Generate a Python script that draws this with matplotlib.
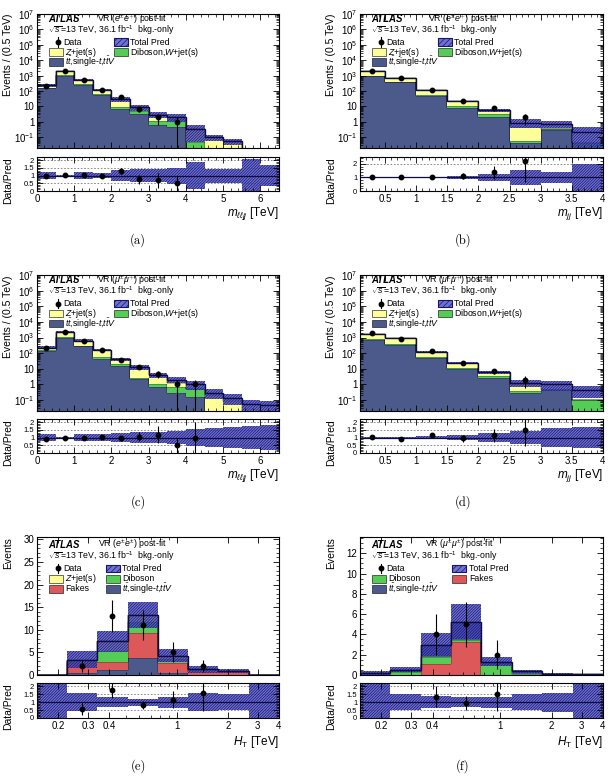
import numpy as np
import matplotlib
matplotlib.use('Agg')
import matplotlib.pyplot as plt
from matplotlib.patches import Rectangle
from matplotlib.lines import Line2D
from matplotlib.ticker import (LogLocator, NullFormatter, FuncFormatter, MultipleLocator,
                               AutoMinorLocator, FixedLocator, FixedFormatter)

plt.rcParams['font.family'] = ['Liberation Sans', 'DejaVu Sans']
plt.rcParams['mathtext.fontset'] = 'custom'
plt.rcParams['mathtext.rm'] = 'Liberation Sans'
plt.rcParams['mathtext.it'] = 'Liberation Sans:italic'
plt.rcParams['mathtext.bf'] = 'Liberation Sans:bold'
plt.rcParams['hatch.linewidth'] = 0.5
plt.rcParams['axes.linewidth'] = 0.8

# ---------------- data ----------------
# (a) VR ee, m_lljj
edges_a = [0.0, 0.5, 1.0, 1.5, 2.0, 2.5, 3.0, 3.5, 4.0, 4.5, 5.0, 5.5, 6.0, 6.5]
tt_a = [155, 1000, 255, 55, 6.5, 3.0, 0.6, 0.45, 0.01, 0.005, 0.003, 0.002, 0.001]
vv_a = [10, 60, 20, 8, 3.0, 1.8, 0.5, 1.0, 0.04, 0.005, 0.003, 0.002, 0.001]
z_a = [65, 840, 255, 57, 22.5, 4.5, 1.8, 0.55, 0.3, 0.09, 0.05, 0.006, 0.005]
tot_a = [230, 1900, 530, 120, 32, 9.3, 2.9, 2.0, 0.35, 0.1, 0.056, 0.01, 0.007]
unc_a = [0.24, 0.05, 0.2, 0.15, 0.35, 0.42, 0.42, 0.52, 0.85, 0.45, 0.45, 1.05, 0.7]
data_a = [220, 1940, 555, 114, 41, 7, 2, 1]

# (b) VR ee, m_jj
edges_b = [0.1, 0.5, 1.0, 1.5, 2.0, 2.5, 3.0, 3.5, 4.0]
tt_b = [900, 360, 45, 8, 2.1, 0.04, 0.3, 0.02]
vv_b = [60, 30, 8, 3, 0.9, 0.02, 0.06, 0.02]
z_b = [900, 300, 57, 10, 2.8, 0.4, 0.0, 0.0]
tot_b = [1860, 690, 110, 21, 5.8, 0.9, 0.75, 0.22]
unc_b = [0.03, 0.03, 0.05, 0.1, 0.24, 0.58, 0.43, 1.02]
data_b = [1860, 725, 110, 23, 8, 2]

# (c) VR mumu, m_lljj
edges_c = [0.0, 0.5, 1.0, 1.5, 2.0, 2.5, 3.0, 3.5, 4.0, 4.5, 5.0, 5.5, 6.0, 6.5]
tt_c = [140, 1000, 270, 45, 15, 2.1, 0.66, 0.27, 0.15, 0.005, 0.003, 0.002, 0.002]
vv_c = [10, 70, 30, 15, 5, 0.6, 0.35, 0.4, 0.35, 0.01, 0.005, 0.002, 0.002]
z_c = [80, 1330, 330, 100, 21, 9.7, 3.2, 0.6, 0.0, 0.2, 0.08, 0.01, 0.01]
tot_c = [230, 2400, 630, 160, 41, 12.4, 4.2, 2.0, 1.0, 0.3, 0.14, 0.06, 0.05]
unc_c = [0.22, 0.05, 0.2, 0.2, 0.28, 0.33, 0.36, 0.42, 0.55, 0.6, 0.65, 0.73, 0.8]
data_c = [214, 2400, 630, 168, 39, 13, 5, 1, 1]

# (d) VR mumu, m_jj
edges_d = [0.1, 0.5, 1.0, 1.5, 2.0, 2.5, 3.0, 3.5, 4.0]
tt_d = [740, 345, 52, 9.8, 2.7, 0.27, 0.45, 0.005]
vv_d = [60, 30, 8, 2, 0.6, 0.09, 0.02, 0.1]
z_d = [940, 575, 65, 12.7, 2.8, 0.65, 0.0, 0.0]
tot_d = [1740, 950, 125, 24.5, 6.1, 1.33, 1.0, 0.45]
unc_d = [0.03, 0.03, 0.07, 0.15, 0.27, 0.45, 0.6, 0.7]
data_d = [1830, 855, 144, 23, 7, 2]

# (e) VR e+-e+-, H_T
edges_e = [0.15, 0.226, 0.34, 0.513, 0.773, 1.165, 1.756, 2.65, 4.0]
tt_e = [0.0, 0.5, 1.0, 3.7, 0.4, 0.1, 0.05, 0.0]
fk_e = [0.0, 2.2, 1.85, 5.5, 2.3, 0.6, 0.65, 0.0]
vv_e = [0.0, 0.4, 2.55, 2.5, 0.9, 0.3, 0.15, 0.0]
z_e = [0.0, 0.3, 2.1, 1.5, 0.7, 0.25, 0.1, 0.0]
tot_e = [0.0, 3.4, 7.5, 13.2, 4.3, 1.25, 0.95, 0.0]
unc_e = [1.5, 0.55, 0.31, 0.22, 0.35, 0.57, 0.48, 1.5]
data_e = [0, 2, 13, 11, 5, 2, 0, 0]

# (f) VR mu+-mu+-, H_T
edges_f = [0.15, 0.226, 0.34, 0.513, 0.773, 1.165, 1.756, 2.65, 4.0]
fk_f = [0.0, 0.0, 1.05, 3.3, 0.0, 0.0, 0.0, 0.0]
vv_f = [0.0, 0.25, 0.75, 0.15, 1.0, 0.05, 0.0, 0.0]
tt_f = [0.15, 0.25, 1.2, 1.8, 0.3, 0.3, 0.1, 0.05]
tot_f = [0.15, 0.5, 3.0, 5.25, 1.3, 0.35, 0.1, 0.05]
unc_f = [1.5, 0.5, 0.37, 0.33, 0.35, 0.5, 0.6, 1.5]
data_f = [0, 0, 4, 5, 2, 0, 0, 0]

# ---------------- style ----------------
C_TT = '#4b5a8a'
C_Z = '#ffff99'
C_VV = '#55cc55'
C_FK = '#dd5959'
BAND_FC = (0.30, 0.30, 0.78, 0.8)
BAND_EC = '#15156e'
HATCH = '////////////'
LINE_C = '#0c0c40'
FS_TXT = 6.3

LBL_TT = r'$t\bar{t}$,single-$t$,$t\bar{t}V$'
LBL_Z = r'$Z$+jet(s)'
LBL_VVW = r'Diboson,$W$+jet(s)'

fig = plt.figure(figsize=(6.11, 7.77), dpi=100)

LEFT = [37 / 611, 360 / 611]
WID = [242 / 611, 243 / 611]
ROWS = [(1 - 148 / 777, 134 / 777, 1 - 191 / 777, 34 / 777),
        (1 - 411 / 777, 136 / 777, 1 - 453 / 777, 34 / 777),
        (1 - 675 / 777, 138 / 777, 1 - 718 / 777, 35 / 777)]


def style(ax, labelbottom=True, ysize=7):
    ax.tick_params(which='both', direction='in', top=True, right=True,
                   labelsize=7, pad=2, labelbottom=labelbottom)
    ax.tick_params(axis='y', labelsize=ysize)
    ax.tick_params(which='major', length=4.5, width=0.6)
    ax.tick_params(which='minor', length=2.2, width=0.5)


def logfmt(v, pos):
    e = int(round(np.log10(v)))
    if e == 0:
        return '1'
    if e == 1:
        return '10'
    return r'$10^{%d}$' % e


def draw(ax, rax, edges, layers, total, unc, data, logx=False, logy=True):
    edges = np.asarray(edges, float)
    total = np.asarray(total, float)
    unc = np.asarray(unc, float)
    data = np.asarray(data, float)
    floor = 1e-4 if logy else 0.0
    base = np.full(len(total), floor)
    for vals, col in layers:
        top = base + np.asarray(vals, float)
        ax.stairs(top, edges, baseline=base, fill=True, facecolor=col, lw=0)
        ax.stairs(top, edges, baseline=None, color='black', lw=0.35)
        base = top
    lo = np.clip(total * (1 - unc), floor, None)
    hi = np.maximum(total * (1 + unc), lo)
    ax.stairs(hi, edges, baseline=lo, fill=True, facecolor=BAND_FC,
              edgecolor=BAND_EC, hatch=HATCH, lw=0)
    ax.stairs(np.maximum(total, floor), edges, baseline=None, color=LINE_C, lw=1.0)

    if logx:
        centers = np.sqrt(edges[:-1] * edges[1:])
    else:
        centers = 0.5 * (edges[:-1] + edges[1:])
    nd = len(data)
    x = centers[:nd]
    m = data > 0
    err = np.sqrt(data)
    low = np.minimum(err, data - floor * 0.5) if logy else err
    ax.errorbar(x[m], data[m], yerr=[low[m], err[m]], fmt='o', color='black',
                ms=3.2, elinewidth=0.8, capsize=0, zorder=5)

    rax.stairs(1 + unc, edges, baseline=1 - unc, fill=True, facecolor=BAND_FC,
               edgecolor=BAND_EC, hatch=HATCH, lw=0)
    rax.axhline(1, color=LINE_C, lw=0.9)
    tt = total[:nd]
    r = np.divide(data, tt, out=np.zeros(nd), where=tt > 0)
    re = np.divide(err, tt, out=np.zeros(nd), where=tt > 0)
    rax.errorbar(x[m], r[m], yerr=re[m], fmt='o', color='black',
                 ms=3.2, elinewidth=0.8, capsize=0, zorder=5)


def leg_box(ax, x, y, label, **kw):
    ax.add_patch(Rectangle((x, y - 0.028), 0.058, 0.056, transform=ax.transAxes, **kw))
    ax.text(x + 0.068, y, label, transform=ax.transAxes, fontsize=FS_TXT, va='center')


def leg_data(ax, x, y):
    ax.add_line(Line2D([x, x], [y - 0.035, y + 0.035], transform=ax.transAxes,
                       color='black', lw=0.8))
    ax.add_line(Line2D([x], [y], transform=ax.transAxes, marker='o', ms=3.2,
                       color='black', ls='none'))
    ax.text(x + 0.022, y, 'Data', transform=ax.transAxes, fontsize=FS_TXT, va='center')


def header(ax, top, vr_x, chan, col2, entries):
    rows = [top, top - 0.083, top - 0.173, top - 0.247, top - 0.321]
    ax.text(0.045, rows[0], 'ATLAS', transform=ax.transAxes, fontsize=6.9,
            fontweight='bold', fontstyle='italic', va='center')
    ax.text(vr_x, rows[0], 'VR (' + chan + ') post-fit', transform=ax.transAxes,
            fontsize=FS_TXT, va='center')
    ax.text(0.045, rows[1], r'$\sqrt{s}$=13 TeV, 36.1 fb$^{-1}$  bkg.-only',
            transform=ax.transAxes, fontsize=FS_TXT, va='center')
    leg_data(ax, 0.085, rows[2])
    leg_box(ax, col2, rows[2], 'Total Pred', facecolor=BAND_FC, edgecolor=BAND_EC,
            hatch='//////', lw=0.8)
    for i, (lab, col) in enumerate(entries):
        r = rows[3 + i // 2]
        xx = 0.048 if i % 2 == 0 else col2
        leg_box(ax, xx, r, lab, facecolor=col, edgecolor='black', lw=0.4)


panels = [
    dict(col=0, row=0, edges=edges_a, layers=[(tt_a, C_TT), (vv_a, C_VV), (z_a, C_Z)],
         tot=tot_a, unc=unc_a, data=data_a, kind='lljj', chan=r'$e^{\pm}e^{\mp}$',
         vr_x=0.248, col2=0.318, cap='(a)', ent=[(LBL_Z, C_Z), (LBL_VVW, C_VV), (LBL_TT, C_TT)]),
    dict(col=1, row=0, edges=edges_b, layers=[(tt_b, C_TT), (vv_b, C_VV), (z_b, C_Z)],
         tot=tot_b, unc=unc_b, data=data_b, kind='jj', chan=r'$e^{\pm}e^{\mp}$',
         vr_x=0.28, col2=0.32, cap='(b)', ent=[(LBL_Z, C_Z), (LBL_VVW, C_VV), (LBL_TT, C_TT)]),
    dict(col=0, row=1, edges=edges_c, layers=[(tt_c, C_TT), (vv_c, C_VV), (z_c, C_Z)],
         tot=tot_c, unc=unc_c, data=data_c, kind='lljj', chan=r'$\mu^{\pm}\mu^{\mp}$',
         vr_x=0.248, col2=0.318, cap='(c)', ent=[(LBL_Z, C_Z), (LBL_VVW, C_VV), (LBL_TT, C_TT)]),
    dict(col=1, row=1, edges=edges_d, layers=[(tt_d, C_TT), (vv_d, C_VV), (z_d, C_Z)],
         tot=tot_d, unc=unc_d, data=data_d, kind='jj', chan=r'$\mu^{\pm}\mu^{\mp}$',
         vr_x=0.265, col2=0.32, cap='(d)', ent=[(LBL_Z, C_Z), (LBL_VVW, C_VV), (LBL_TT, C_TT)]),
    dict(col=0, row=2, edges=edges_e,
         layers=[(tt_e, C_TT), (fk_e, C_FK), (vv_e, C_VV), (z_e, C_Z)],
         tot=tot_e, unc=unc_e, data=data_e, kind='ht', chan=r'$e^{\pm}e^{\pm}$',
         vr_x=0.25, col2=0.285, cap='(e)', ymax=30.5,
         ent=[(LBL_Z, C_Z), ('Diboson', C_VV), ('Fakes', C_FK), (LBL_TT, C_TT)]),
    dict(col=1, row=2, edges=edges_f,
         layers=[(fk_f, C_FK), (vv_f, C_VV), (tt_f, C_TT)],
         tot=tot_f, unc=unc_f, data=data_f, kind='ht', chan=r'$\mu^{\pm}\mu^{\pm}$',
         vr_x=0.267, col2=0.38, cap='(f)', ymax=13.6,
         ent=[('Diboson', C_VV), ('Fakes', C_FK), (LBL_TT, C_TT)]),
]

for p in panels:
    mb, mh, rb, rh = ROWS[p['row']]
    ax = fig.add_axes([LEFT[p['col']], mb, WID[p['col']], mh])
    rax = fig.add_axes([LEFT[p['col']], rb, WID[p['col']], rh])
    ht = p['kind'] == 'ht'
    if ht:
        ax.set_xscale('log')
        rax.set_xscale('log')
    else:
        ax.set_yscale('log')

    draw(ax, rax, p['edges'], p['layers'], p['tot'], p['unc'], p['data'],
         logx=ht, logy=not ht)

    for a in (ax, rax):
        a.set_xlim(p['edges'][0], p['edges'][-1])
        if ht:
            a.xaxis.set_major_locator(FixedLocator([0.2, 0.3, 0.4, 1, 2, 3, 4]))
            a.xaxis.set_major_formatter(FixedFormatter(['0.2', '0.3', '0.4', '1', '2', '3', '4']))
            a.xaxis.set_minor_locator(FixedLocator([0.5, 0.6, 0.7, 0.8, 0.9]))
            a.xaxis.set_minor_formatter(NullFormatter())
        else:
            a.xaxis.set_major_locator(MultipleLocator(1.0 if p['kind'] == 'lljj' else 0.5))
            a.xaxis.set_minor_locator(AutoMinorLocator(5))
            a.xaxis.set_major_formatter(FuncFormatter(lambda v, pos: '%g' % v))

    if ht:
        ax.set_ylim(0, p['ymax'])
        ax.yaxis.set_major_locator(MultipleLocator(5 if p['ymax'] > 20 else 2))
        ax.yaxis.set_minor_locator(AutoMinorLocator(5 if p['ymax'] > 20 else 4))
        ax.set_ylabel('Events', fontsize=7.5, loc='top')
        top = 0.945
    else:
        ax.set_ylim(0.02, 1e7)
        ax.yaxis.set_major_locator(LogLocator(base=10, numticks=100))
        ax.yaxis.set_minor_locator(LogLocator(base=10, subs=np.arange(2, 10), numticks=100))
        ax.yaxis.set_major_formatter(FuncFormatter(logfmt))
        ax.yaxis.set_minor_formatter(NullFormatter())
        ax.set_ylabel('Events / (0.5 TeV)', fontsize=7.5, loc='top')
        top = 0.963
    ax.yaxis.set_label_coords(-0.10, 1.0)
    style(ax, labelbottom=False)

    if p['cap'] == '(b)':
        rax.set_ylim(0, 2.5)
        rax.yaxis.set_major_locator(FixedLocator([0, 1, 2]))
        grids = [2.0]
    else:
        rax.set_ylim(0, 2.2)
        rax.yaxis.set_major_locator(FixedLocator([0, 0.5, 1, 1.5, 2]))
        grids = [0.5, 1.5, 2.0]
    rax.yaxis.set_major_formatter(FuncFormatter(lambda v, pos: '%g' % v))
    rax.yaxis.set_minor_locator(AutoMinorLocator(5))
    for g in grids:
        rax.axhline(g, color='#777777', ls=(0, (2, 2)), lw=0.6, zorder=0.5)
    rax.set_ylabel('Data/Pred', fontsize=7.5, loc='top')
    rax.yaxis.set_label_coords(-0.10, 1.0)
    style(rax, labelbottom=True, ysize=5.5)

    if p['kind'] == 'lljj':
        xl = r'$m_{\ell\ell jj}$ [TeV]'
    elif p['kind'] == 'jj':
        xl = r'$m_{jj}$ [TeV]'
    else:
        xl = r'$H_{\mathrm{T}}$ [TeV]'
    rax.set_xlabel(xl, fontsize=8.5, loc='right')
    rax.xaxis.set_label_coords(1.0, -0.42 if not ht else -0.46)

    header(ax, top, p['vr_x'], p['chan'], p['col2'], p['ent'])

    capx = 138 / 611 if p['col'] == 0 else 463 / 611
    capy = [1 - 240 / 777, 1 - 502 / 777, 1 - 766 / 777][p['row']]
    fig.text(capx, capy, p['cap'], fontfamily='cmr10', fontsize=9, ha='center', va='center')

fig.savefig('out.png', dpi=100)
